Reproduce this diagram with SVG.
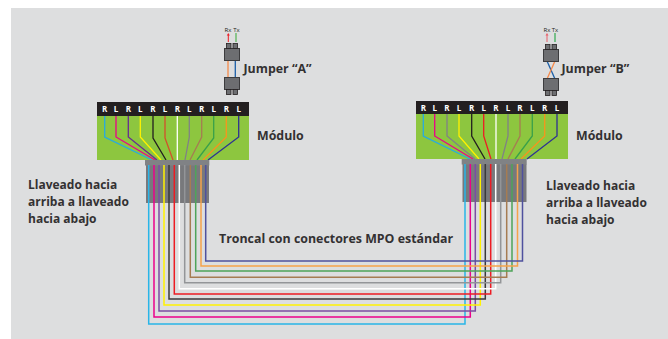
<svg xmlns="http://www.w3.org/2000/svg" width="668" height="339" viewBox="0 0 668 339">
<style>
.t{font-family:"Open Sans","Noto Sans","Liberation Sans",sans-serif;font-weight:700;font-size:12px;fill:#333132}
.b{font-size:12.4px}
.h{font-family:"Open Sans","Liberation Sans",sans-serif;font-weight:700;font-size:8px;fill:#fff;text-anchor:middle}
.s{font-family:"Open Sans","Liberation Sans",sans-serif;font-size:6px;fill:#231f20;text-anchor:middle}
.w{fill:none;stroke-width:1.3}
.f{fill:none;stroke-width:1.5}
.c{fill:#6d6e71;stroke:#3c3c3e;stroke-width:1}
.p{fill:#6d6e71;stroke:#231f20;stroke-width:.8}
</style>
<defs>
<g id="jt"><rect class="c" x="0" y="0" width="15" height="12"/><rect class="p" x="2" y="-5" width="4.500" height="5"/><rect class="p" x="8.500" y="-5" width="4.500" height="5"/></g>
<g id="jb"><rect class="c" x="0" y="0" width="15" height="12"/><rect class="p" x="2" y="12" width="4.500" height="5"/><rect class="p" x="8.500" y="12" width="4.500" height="5"/></g>
</defs>
<rect width="668" height="339" fill="#fff"/>
<rect x="11" y="8" width="657" height="331" fill="#dddedf"/>
<g id="module-a">
<rect x="97" y="116" width="152" height="44" fill="#8dc63f"/>
<rect x="97" y="102" width="152" height="14" fill="#231f20"/>
<g class="h"><text x="104.700" y="112">R</text><text x="116" y="112">L</text><text x="128.300" y="112">R</text><text x="140.300" y="112">L</text><text x="153" y="112">R</text><text x="165" y="112">L</text><text x="177.300" y="112">R</text><text x="189.300" y="112">L</text><text x="201.700" y="112">R</text><text x="213.700" y="112">L</text><text x="226.300" y="112">R</text><text x="238.700" y="112">L</text></g>
</g>
<g id="module-b">
<rect x="416" y="114" width="152" height="45" fill="#8dc63f"/>
<rect x="416" y="101" width="152" height="13" fill="#231f20"/>
<g class="h"><text x="423.300" y="110.500">R</text><text x="434.700" y="110.500">L</text><text x="447" y="110.500">R</text><text x="459" y="110.500">L</text><text x="471.700" y="110.500">R</text><text x="483.700" y="110.500">L</text><text x="496" y="110.500">R</text><text x="508" y="110.500">L</text><text x="520" y="110.500">R</text><text x="532.300" y="110.500">L</text><text x="544.700" y="110.500">R</text><text x="557" y="110.500">L</text></g>
</g>
<g id="connectors">
<g id="fan-a" class="w">
<polyline stroke="#27aae1" points="104.700,116 104.700,137 152,160"/>
<polyline stroke="#ec008c" points="116,116 116,137 155,160"/>
<polyline stroke="#662d91" points="128.300,116 128.300,137 157,160"/>
<polyline stroke="#fff200" points="140.300,116 140.300,137 161,160"/>
<polyline stroke="#231f20" points="153,116 153,138 166,160"/>
<polyline stroke="#d2512b" points="165,116 165,138 173,160"/>
<polyline stroke="#fff" points="177.300,116 177.300,160"/>
<polyline stroke="#808285" points="189.300,116 189.300,137 185,160"/>
<polyline stroke="#a67c52" points="201.700,116 201.700,137 190,160"/>
<polyline stroke="#39a04a" points="213.700,116 213.700,138 197,160"/>
<polyline stroke="#f7941d" points="226.300,116 226.300,137 203,160"/>
<polyline stroke="#2e3192" points="238.700,116 238.700,137 208,160"/>
</g>
<g id="fan-b" class="w">
<polyline stroke="#27aae1" points="423.300,114 423.300,136 470,159"/>
<polyline stroke="#ec008c" points="434.700,114 434.700,136 473,159"/>
<polyline stroke="#808285" points="447,114 447,136 475,159"/>
<polyline stroke="#fff200" points="459,114 459,136 479,159"/>
<polyline stroke="#231f20" points="471.700,114 471.700,136 485,159"/>
<polyline stroke="#ed1c24" points="483.700,114 483.700,136 491,159"/>
<polyline stroke="#fff" points="496,114 496,159"/>
<polyline stroke="#808285" points="508,114 508,136 502,159"/>
<polyline stroke="#a67c52" points="520,114 520,136 508,159"/>
<polyline stroke="#39a04a" points="532.300,114 532.300,136 515,159"/>
<polyline stroke="#f7941d" points="544.700,114 544.700,136 521,159"/>
<polyline stroke="#2e3192" points="557,114 557,136 527,159"/>
</g>
</g>
<g id="mpo-a"><rect x="146" y="165" width="63" height="38" fill="#6d6e71" opacity=".9"/><rect x="145" y="160" width="64.300" height="5.500" fill="#808285"/></g>
<g id="mpo-b"><rect x="462.500" y="164" width="64" height="38" fill="#6d6e71" opacity=".9"/><rect x="461.700" y="159" width="65" height="5.500" fill="#808285"/></g>
<g id="trunk" class="f">
<polyline stroke="#29b5e8" points="148.700,165 148.700,324 465,324 465,164"/>
<polyline stroke="#ec008c" points="154,165 154,317 470.300,317 470.300,164"/>
<polyline stroke="#7b4ea3" points="159,165 159,311 475.300,311 475.300,164"/>
<polyline stroke="#fff200" points="164,165 164,305 480.300,305 480.300,164"/>
<polyline stroke="#3a3a3c" points="169,165 169,299 485.300,299 485.300,164"/>
<polyline stroke="#ed1c24" points="174.300,165 174.300,294 490.700,294 490.700,164"/>
<polyline stroke="#fff" points="179.300,165 179.300,288.700 495.700,288.700 495.700,164"/>
<polyline stroke="#939598" points="184.700,165 184.700,282.700 500.700,282.700 500.700,164"/>
<polyline stroke="#a67c52" points="190.300,165 190.300,277.300 506.700,277.300 506.700,164"/>
<polyline stroke="#4ea45a" points="195.700,165 195.700,271 512,271 512,164"/>
<polyline stroke="#f6a24a" points="201,165 201,266 517.500,266 517.500,164"/>
<polyline stroke="#4f519e" points="205.700,165 205.700,261 522.500,261 522.500,164"/>
</g>
<g id="jumper-a">
<line x1="228" y1="60" x2="228" y2="78" stroke="#f58a4b" stroke-width="1.300"/>
<line x1="235.300" y1="60" x2="235.300" y2="78" stroke="#1c5fa8" stroke-width="1.300"/>
<use href="#jt" x="224.500" y="48.500"/><use href="#jb" x="224.500" y="77.500"/>
<line x1="228.300" y1="35" x2="228.300" y2="42" stroke="#ed1c24"/>
<path d="M226.800 35.500h3l-1.500-2.500z" fill="#ed1c24"/>
<line x1="236" y1="33" x2="236" y2="42" stroke="#6cbb6e" stroke-width="1.500"/>
<text class="s" x="228" y="32">Rx</text><text class="s" x="236.500" y="32">Tx</text>
</g>
<g id="jumper-b">
<line x1="547" y1="61" x2="555" y2="79" stroke="#1c5fa8" stroke-width="1.300"/>
<line x1="555" y1="61" x2="547" y2="79" stroke="#f58a4b" stroke-width="1.300"/>
<use href="#jt" x="543.500" y="49.500"/><use href="#jb" x="543.500" y="78.500"/>
<line x1="547" y1="35" x2="547" y2="42" stroke="#e8606a"/>
<path d="M545.500 35.500h3l-1.500-2.500z" fill="#e8606a"/>
<line x1="555" y1="33" x2="555" y2="42" stroke="#3fae5a" stroke-width="1.300"/>
<text class="s" x="547" y="32">Rx</text><text class="s" x="555" y="32">Tx</text>
</g>
<g id="labels">
<text class="t b" x="243.500" y="72.500">Jumper “A”</text>
<text class="t b" x="561.500" y="72.500">Jumper “B”</text>
<text class="t b" x="257" y="140">Módulo</text>
<text class="t b" x="576" y="140">Módulo</text>
<text class="t" x="28" y="189">Llaveado hacia</text>
<text class="t" x="28" y="206">arriba a llaveado</text>
<text class="t" x="28" y="223">hacia abajo</text>
<text class="t" x="546" y="190">Llaveado hacia</text>
<text class="t" x="546" y="207">arriba a llaveado</text>
<text class="t" x="546" y="224">hacia abajo</text>
<text class="t b" x="219" y="243">Troncal con conectores MPO estándar</text>
</g>
</svg>
